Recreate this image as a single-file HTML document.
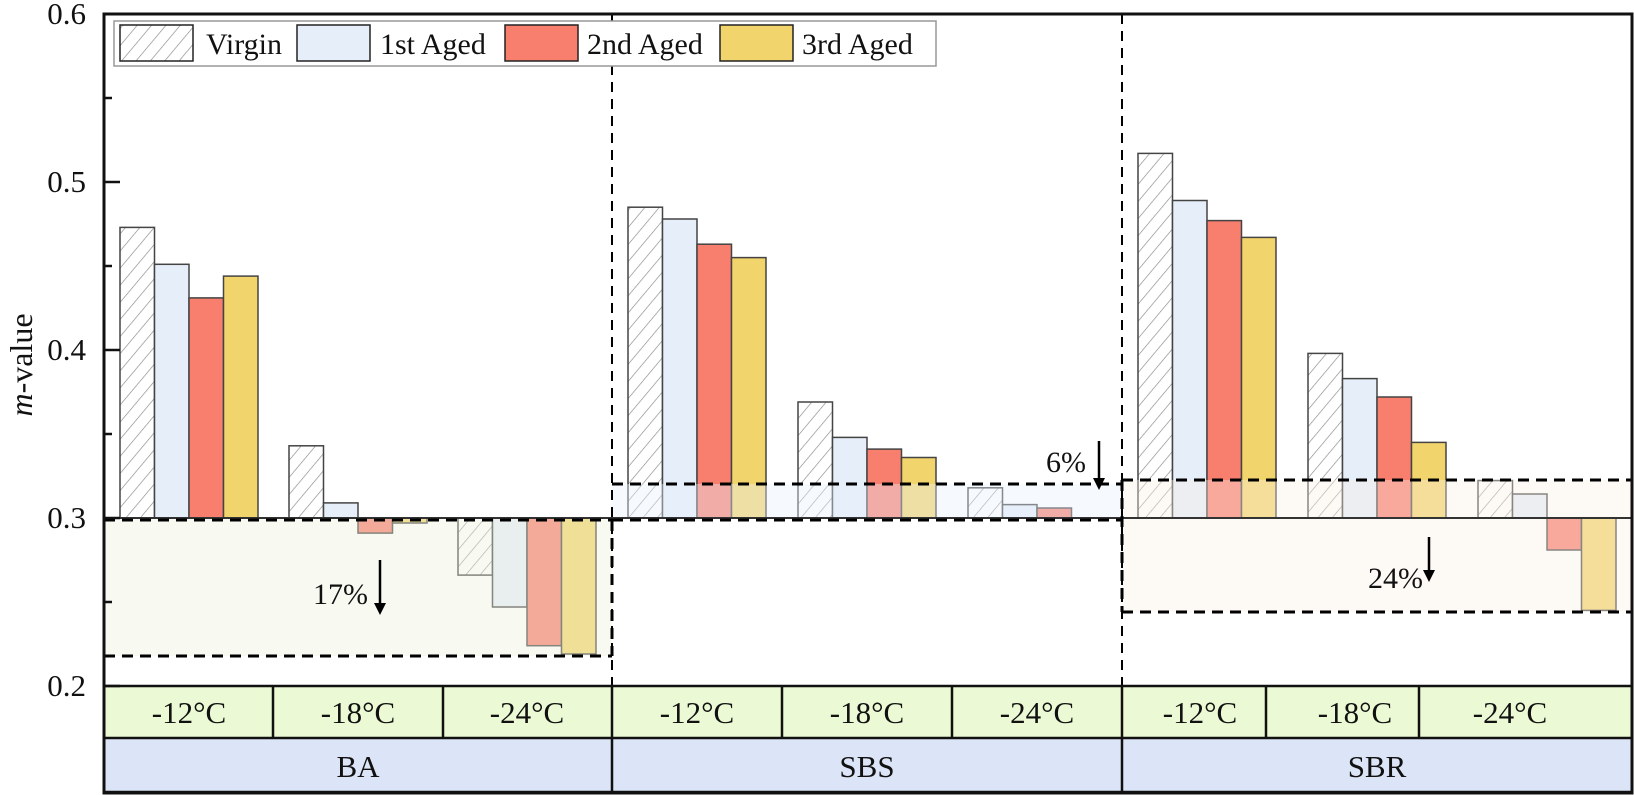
<!DOCTYPE html>
<html><head><meta charset="utf-8"><style>
html,body{margin:0;padding:0;background:#fff;}
svg{display:block;font-family:"Liberation Serif",serif;}
</style></head><body>
<svg width="1634" height="795" viewBox="0 0 1634 795" xmlns="http://www.w3.org/2000/svg">
<defs>
<pattern id="h" patternUnits="userSpaceOnUse" width="11" height="11" patternTransform="rotate(40)">
<rect width="11" height="11" fill="#fff"/>
<line x1="0" y1="0" x2="0" y2="11" stroke="#888" stroke-width="1.3"/>
</pattern>
</defs>
<g stroke="#444" stroke-width="1.5">
<rect x="120" y="227.4" width="34.5" height="290.6" fill="url(#h)"/>
<rect x="154.5" y="264.3" width="34.5" height="253.7" fill="#e6eef9"/>
<rect x="189" y="297.9" width="34.5" height="220.1" fill="#f87f6e"/>
<rect x="223.5" y="276.1" width="34.5" height="241.9" fill="#f2d46c"/>
<rect x="289" y="445.8" width="34.5" height="72.2" fill="url(#h)"/>
<rect x="323.5" y="502.9" width="34.5" height="15.1" fill="#e6eef9"/>
<rect x="358" y="518" width="34.5" height="15.1" fill="#f87f6e"/>
<rect x="392.5" y="518" width="34.5" height="5" fill="#f2d46c"/>
<rect x="458" y="518" width="34.5" height="57.1" fill="url(#h)"/>
<rect x="492.5" y="518" width="34.5" height="89" fill="#e6eef9"/>
<rect x="527" y="518" width="34.5" height="127.7" fill="#f87f6e"/>
<rect x="561.5" y="518" width="34.5" height="136" fill="#f2d46c"/>
<rect x="628" y="207.2" width="34.5" height="310.8" fill="url(#h)"/>
<rect x="662.5" y="219" width="34.5" height="299" fill="#e6eef9"/>
<rect x="697" y="244.2" width="34.5" height="273.8" fill="#f87f6e"/>
<rect x="731.5" y="257.6" width="34.5" height="260.4" fill="#f2d46c"/>
<rect x="798" y="402" width="34.5" height="116" fill="url(#h)"/>
<rect x="832.5" y="437.4" width="34.5" height="80.6" fill="#e6eef9"/>
<rect x="867" y="449.1" width="34.5" height="68.9" fill="#f87f6e"/>
<rect x="901.5" y="457.5" width="34.5" height="60.5" fill="#f2d46c"/>
<rect x="968" y="487.8" width="34.5" height="30.2" fill="url(#h)"/>
<rect x="1002.5" y="504.6" width="34.5" height="13.4" fill="#e6eef9"/>
<rect x="1037" y="508" width="34.5" height="10" fill="#f87f6e"/>
<rect x="1138" y="153.4" width="34.5" height="364.6" fill="url(#h)"/>
<rect x="1172.5" y="200.5" width="34.5" height="317.5" fill="#e6eef9"/>
<rect x="1207" y="220.6" width="34.5" height="297.4" fill="#f87f6e"/>
<rect x="1241.5" y="237.4" width="34.5" height="280.6" fill="#f2d46c"/>
<rect x="1308" y="353.4" width="34.5" height="164.6" fill="url(#h)"/>
<rect x="1342.5" y="378.6" width="34.5" height="139.4" fill="#e6eef9"/>
<rect x="1377" y="397" width="34.5" height="121" fill="#f87f6e"/>
<rect x="1411.5" y="442.4" width="34.5" height="75.6" fill="#f2d46c"/>
<rect x="1478" y="480.6" width="34.5" height="37.4" fill="url(#h)"/>
<rect x="1512.5" y="494" width="34.5" height="24" fill="#e6eef9"/>
<rect x="1547" y="518" width="34.5" height="32" fill="#f87f6e"/>
<rect x="1581.5" y="518" width="34.5" height="92.4" fill="#f2d46c"/>
</g>
<rect x="104" y="518" width="508" height="138" fill="rgba(236,243,222,0.38)"/>
<rect x="612" y="484" width="510" height="34" fill="rgba(232,240,252,0.4)"/>
<rect x="1122" y="480" width="510" height="132" fill="rgba(250,238,228,0.38)"/>
<line x1="104" y1="518" x2="1632" y2="518" stroke="#333" stroke-width="2"/>
<g stroke="#000" stroke-width="3" stroke-dasharray="11 7" fill="none">
<line x1="104" y1="656" x2="612" y2="656"/>
<line x1="104" y1="520" x2="612" y2="520"/>
<line x1="612" y1="484" x2="1122" y2="484"/>
<line x1="612" y1="520" x2="1122" y2="520"/>
<line x1="1122" y1="480" x2="1632" y2="480"/>
<line x1="1122" y1="612" x2="1632" y2="612"/>
<line x1="1122" y1="480" x2="1122" y2="612"/>
<line x1="612" y1="520" x2="612" y2="656"/>
</g>
<g stroke="#000" stroke-width="2" stroke-dasharray="10 7">
<line x1="612" y1="14" x2="612" y2="686"/>
<line x1="1122" y1="14" x2="1122" y2="686"/>
</g>
<g stroke="#000" stroke-width="2.5">
<line x1="380" y1="560" x2="380" y2="605"/>
<line x1="1099" y1="441" x2="1099" y2="480"/>
<line x1="1429" y1="537" x2="1429" y2="572"/>
</g>
<g fill="#000">
<polygon points="374,603 386,603 380,615"/>
<polygon points="1093,478 1105,478 1099,490"/>
<polygon points="1423,570 1435,570 1429,582"/>
</g>
<g font-size="30" fill="#111" text-anchor="end">
<text x="368" y="604">17%</text>
<text x="1086" y="472">6%</text>
<text x="1423" y="588">24%</text>
</g>
<rect x="104" y="686" width="1528" height="52" fill="#ebf9d4"/>
<rect x="104" y="738" width="1528" height="55" fill="#dce5f7"/>
<g stroke="#111" stroke-width="2.5" fill="none">
<line x1="104" y1="686" x2="1632" y2="686"/>
<line x1="104" y1="738" x2="1632" y2="738"/>
<line x1="104" y1="792" x2="1632" y2="792"/>
<line x1="612" y1="686" x2="612" y2="793"/>
<line x1="1122" y1="686" x2="1122" y2="793"/>
<line x1="273" y1="686" x2="273" y2="738"/>
<line x1="443" y1="686" x2="443" y2="738"/>
<line x1="782" y1="686" x2="782" y2="738"/>
<line x1="952" y1="686" x2="952" y2="738"/>
<line x1="1266" y1="686" x2="1266" y2="738"/>
<line x1="1419" y1="686" x2="1419" y2="738"/>
</g>
<g font-size="31" fill="#111" text-anchor="middle">
<text x="189" y="723">-12°C</text>
<text x="358" y="723">-18°C</text>
<text x="527" y="723">-24°C</text>
<text x="697" y="723">-12°C</text>
<text x="867" y="723">-18°C</text>
<text x="1037" y="723">-24°C</text>
<text x="1200" y="723">-12°C</text>
<text x="1355" y="723">-18°C</text>
<text x="1510" y="723">-24°C</text>
<text x="358" y="777">BA</text>
<text x="867" y="777">SBS</text>
<text x="1377" y="777">SBR</text>
</g>
<rect x="104" y="14" width="1528" height="779" fill="none" stroke="#111" stroke-width="3"/>
<g stroke="#111" stroke-width="2.5">
<line x1="104" y1="14" x2="120" y2="14"/>
<line x1="104" y1="182" x2="120" y2="182"/>
<line x1="104" y1="350" x2="120" y2="350"/>
<line x1="104" y1="518" x2="120" y2="518"/>
<line x1="104" y1="686" x2="120" y2="686"/>
<line x1="104" y1="98" x2="112" y2="98"/>
<line x1="104" y1="266" x2="112" y2="266"/>
<line x1="104" y1="434" x2="112" y2="434"/>
<line x1="104" y1="602" x2="112" y2="602"/>
</g>
<g font-size="31" fill="#111" text-anchor="end">
<text x="86" y="24">0.6</text>
<text x="86" y="192">0.5</text>
<text x="86" y="360">0.4</text>
<text x="86" y="528">0.3</text>
<text x="86" y="696">0.2</text>
</g>
<text transform="translate(32,365) rotate(-90)" font-size="32" text-anchor="middle" fill="#111"><tspan font-style="italic">m</tspan>-value</text>
<rect x="114" y="21" width="822" height="45" fill="#fff" stroke="#999" stroke-width="1.5"/>
<g stroke="#222" stroke-width="1.5">
<rect x="120" y="25" width="73" height="36" fill="url(#h)"/>
<rect x="297" y="25" width="73" height="36" fill="#e6eef9"/>
<rect x="505" y="25" width="73" height="36" fill="#f87f6e"/>
<rect x="720" y="25" width="73" height="36" fill="#f2d46c"/>
</g>
<g font-size="30" fill="#111">
<text x="206" y="54">Virgin</text>
<text x="380" y="54">1st Aged</text>
<text x="587" y="54">2nd Aged</text>
<text x="802" y="54">3rd Aged</text>
</g>
</svg>
</body></html>
